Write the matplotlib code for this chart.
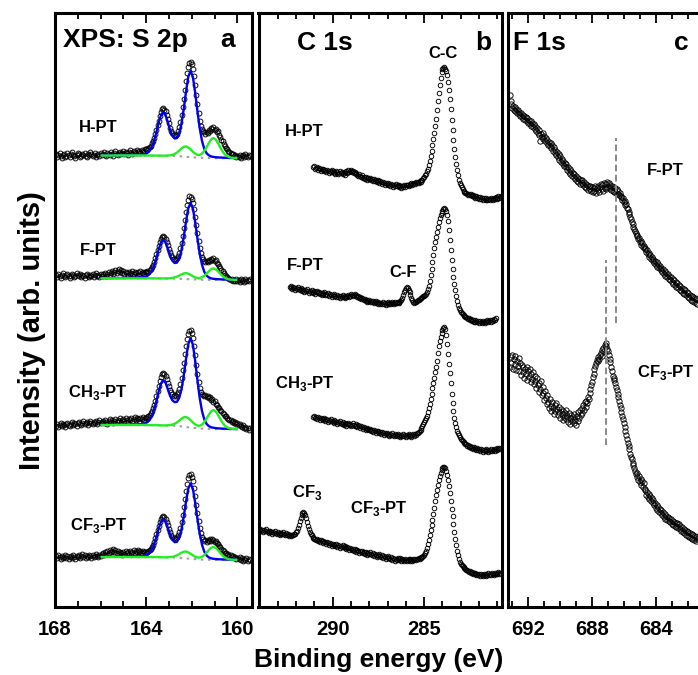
import numpy as np
import matplotlib
matplotlib.use("Agg")
import matplotlib.pyplot as plt
from matplotlib.ticker import MultipleLocator

plt.rcParams['font.family'] = ['Liberation Sans', 'DejaVu Sans']
plt.rcParams['font.weight'] = 'bold'
plt.rcParams['mathtext.fontset'] = 'custom'
plt.rcParams['mathtext.rm'] = 'Liberation Sans:bold'
plt.rcParams['mathtext.bf'] = 'Liberation Sans:bold'

# ---------------- S 2p (panel a), intensities relative to each offset
s2p_start = 167.95
s2p_step = 0.05
s2p_names = ['H-PT', 'F-PT', r'CH$_\mathbf{3}$-PT', r'CF$_\mathbf{3}$-PT']
s2p_offsets = [451.5, 328.7, 182, 50]

s2p_hpt = [2, -1, 1, 3, 0, -2, 1, 2, -1, 0, 3, 1, -1, 2, 4, 1, 0, -2, 1, 3, 2, -1, 0, 2, 1, 3, 0, -1, 2, 1, 4, 2, 0, 1, 3, -1, 1, 2, 0, 3,
           1, 2, 4, 1, 0, 3, 2, 1, 4, 2, 0, 3, 5, 2, 1, 3, 4, 2, 3, 5, 2, 4, 3, 1, 4, 6, 3, 2, 5, 4, 3, 6, 4, 5, 3, 6, 5, 4, 7,
           7, 6, 8, 9, 10, 13, 15, 18, 22, 26, 31, 35, 40, 44, 47, 48, 46, 45, 41, 37, 33, 28, 25, 23, 21, 20, 21, 22, 25, 29,
           34, 41, 49, 57, 66, 75, 83, 89, 93, 94, 92, 87, 80, 71, 61, 52, 43, 35, 30, 27, 25, 24, 22, 24, 23, 26, 25, 28, 27, 29,
           26, 27, 24, 25, 21, 19, 16, 15, 12, 10, 8, 7, 5, 4, 3, 2, 2, 0, 1, -1, 0,
           -1, 1, -2, 0, 1, -1, 2, 0, -1, 1, 0]
s2p_fpt = [3, 1, 4, 2, 0, 3, 5, 2, 1, 3, 4, 2, 0, 2, 4, 3, 1, 2, 5, 3, 2, 4, 1, 3, 2, 0, 3, 4, 2, 1, 3, 2, 4, 1, 3, 5, 2, 3, 1, 4,
           2, 4, 3, 5, 2, 4, 6, 3, 5, 7, 4, 6, 8, 5, 7, 9, 6, 8, 5, 7, 4, 6, 5, 3, 6, 4, 5, 7, 4, 6, 5, 3, 6, 4, 7, 5, 6, 4, 6,
           6, 7, 6, 8, 9, 11, 13, 16, 20, 24, 28, 32, 36, 39, 41, 42, 41, 39, 36, 33, 29, 26, 23, 21, 19, 18, 19, 20, 22, 25,
           30, 35, 42, 50, 58, 66, 73, 78, 82, 81, 79, 75, 69, 61, 53, 45, 37, 30, 25, 21, 19, 17, 16, 17, 16, 18, 17, 19, 18, 20,
           17, 18, 15, 14, 12, 10, 8, 7, 5, 3, 2, 1, 0, -1, -2, -1, -3, -2, -3, -1, -3,
           -2, -4, -1, -3, -2, -4, -1, -3, -2, -3, -1]
s2p_ch3 = [-1, 1, -2, 0, 2, -1, 1, 0, -2, 1, 2, 0, -1, 1, 3, 0, 2, 1, -1, 2, 3, 1, 0, 2, 4, 1, 2, 3, 0, 2, 4, 2, 1, 3, 2, 4, 1, 3, 5, 2,
           3, 4, 2, 5, 3, 1, 4, 6, 3, 5, 2, 4, 6, 3, 5, 4, 7, 3, 5, 6, 4, 7, 5, 3, 6, 5, 7, 4, 6, 8, 5, 7, 6, 4, 7, 6, 8, 5, 7,
           7, 8, 9, 10, 12, 14, 17, 20, 24, 29, 34, 39, 44, 48, 51, 52, 51, 49, 46, 42, 39, 35, 33, 31, 29, 30, 29, 31, 33, 36,
           41, 47, 55, 62, 71, 79, 86, 91, 94, 95, 92, 87, 79, 70, 60, 51, 43, 37, 33, 31, 30, 29, 30, 28, 29, 27, 28, 25, 26, 23,
           24, 21, 20, 18, 17, 15, 14, 12, 11, 9, 9, 7, 6, 5, 5, 3, 4, 2, 3, 1, 2,
           0, 1, -1, -2, 0, -3, -2, -4, -3, -5, -3]
s2p_cf3 = [1, -1, 2, 0, -2, 1, -1, 0, 2, -1, 1, -2, 0, 1, -1, 2, 0, -2, 1, 0, 2, -1, 1, 3, 0, 2, -1, 1, 0, 2, 1, -1, 2, 0, 1, 3, 1, 0, 2, 1,
           3, 4, 2, 5, 3, 6, 4, 7, 5, 6, 8, 5, 7, 4, 6, 3, 5, 4, 2, 5, 3, 6, 4, 5, 3, 6, 4, 5, 7, 4, 6, 5, 7, 5, 6, 4, 6, 5, 5,
           4, 5, 6, 7, 8, 10, 12, 15, 19, 23, 27, 31, 35, 38, 40, 41, 40, 38, 35, 32, 28, 25, 22, 20, 19, 18, 19, 20, 22, 25,
           29, 35, 42, 50, 58, 66, 73, 79, 82, 83, 80, 76, 69, 61, 52, 44, 36, 29, 24, 20, 18, 16, 17, 15, 17, 16, 18, 16, 18, 17,
           15, 16, 14, 13, 11, 10, 8, 7, 6, 4, 4, 2, 3, 1, 2, 0, 1, -1, 0, -2, -1,
           -2, 0, -3, -1, -4, -2, -3, -1, -4, -2, -3]

# fitted envelopes (blue: main doublet, green: second doublet), 165.95 -> 160.05 eV
fit_start = 165.95
fit_step = 0.1
blue_hpt = [0.2, 0.2, 0.2, 0.3, 0.3, 0.3, 0.3, 0.3, 0.3, 0.3, 0.4, 0.4, 0.5, 0.5, 0.6, 0.7, 0.8, 0.9, 1.1, 1.6,
            2.7, 4.7, 8.7, 15.0, 23.4, 32.7, 40.4, 43.5, 40.5, 33.3, 25.4, 19.8, 17.2, 17.6, 22.2, 32.1, 46.9, 64.2, 79.1, 84.7,
            78.4, 62.9, 44.1, 27.1, 14.5, 6.6, 2.3, 0.2, -0.9, -1.4, -1.7, -1.9, -2.0, -2.1, -2.2, -2.3, -2.4, -2.4, -2.5, -2.5]
green_hpt = [0.0, 0.0, 0.0, 0.0, 0.0, 0.0, 0.1, 0.1, 0.1, 0.1, 0.1, 0.1, 0.1, 0.1, 0.1, 0.1, 0.1, 0.1, 0.1, 0.1,
             0.1, 0.0, 0.0, 0.0, -0.1, -0.1, -0.1, -0.2, -0.1, 0.0, 0.2, 0.7, 1.6, 3.0, 4.9, 7.1, 8.7, 9.1, 8.1, 6.1,
             3.8, 1.9, 0.7, 0.7, 2.0, 4.6, 8.4, 12.6, 16.1, 17.5, 16.0, 12.4, 8.0, 4.1, 1.1, -0.7, -1.7, -2.2, -2.4, -2.5]
blue_fpt = [0.2, 0.2, 0.2, 0.2, 0.2, 0.2, 0.3, 0.3, 0.3, 0.3, 0.4, 0.4, 0.5, 0.5, 0.5, 0.6, 0.7, 0.8, 1.0, 1.4,
            2.4, 4.2, 7.7, 13.3, 20.7, 29.0, 35.8, 38.5, 35.9, 29.6, 22.6, 17.6, 15.3, 15.7, 19.8, 28.5, 41.7, 57.0, 70.3, 75.3,
            69.8, 56.2, 39.6, 24.6, 13.5, 6.5, 2.7, 0.9, -0.1, -0.5, -0.7, -0.9, -1.0, -1.1, -1.2, -1.2, -1.3, -1.3, -1.4, -1.4]
green_fpt = [0.0, 0.0, 0.0, 0.0, 0.0, 0.0, 0.0, 0.0, 0.0, 0.0, 0.0, 0.0, 0.0, 0.0, 0.0, 0.0, 0.0, 0.0, 0.0, 0.0,
             0.0, 0.0, 0.0, 0.0, -0.1, 0.0, -0.1, -0.1, -0.1, 0.0, 0.1, 0.4, 0.9, 1.7, 2.8, 4.0, 4.9, 5.2, 4.6, 3.5,
             2.1, 1.0, 0.3, 0.3, 1.1, 2.6, 4.7, 7.1, 9.2, 10.0, 9.1, 7.0, 4.5, 2.2, 0.6, -0.5, -1.1, -1.3, -1.5, -1.5]
blue_ch3 = [0.2, 0.2, 0.2, 0.3, 0.3, 0.3, 0.4, 0.4, 0.4, 0.4, 0.4, 0.4, 0.5, 0.5, 0.6, 0.7, 0.8, 0.9, 1.2, 1.7,
            2.8, 4.8, 8.9, 15.5, 24.1, 33.8, 41.6, 44.8, 42.3, 35.8, 29.1, 24.7, 22.9, 23.2, 27.2, 35.9, 49.7, 66.4, 81.2, 86.8,
            80.2, 64.1, 44.4, 26.8, 13.8, 5.6, 1.1, -1.1, -2.3, -2.7, -3.1, -3.3, -3.5, -3.6, -3.7, -3.8, -3.9, -3.9, -4.0, -4.0]
green_ch3 = [0.0, 0.0, 0.0, 0.0, 0.0, 0.0, 0.1, 0.1, 0.1, 0.1, 0.1, 0.1, 0.1, 0.1, 0.1, 0.1, 0.1, 0.1, 0.1, 0.1,
             0.1, -0.1, -0.1, 0.0, -0.2, -0.2, -0.3, -0.4, -0.4, -0.3, 0.0, 0.4, 1.3, 2.6, 4.4, 6.4, 7.8, 8.0, 6.9, 4.8,
             2.5, 0.6, -0.6, -0.7, 0.5, 2.9, 6.5, 10.4, 13.7, 15.0, 13.6, 10.1, 5.9, 2.2, -0.6, -2.3, -3.2, -3.7, -3.9, -4.0]
blue_cf3 = [0.2, 0.2, 0.2, 0.2, 0.2, 0.2, 0.3, 0.3, 0.3, 0.3, 0.4, 0.4, 0.5, 0.5, 0.5, 0.6, 0.7, 0.8, 1.0, 1.4,
            2.3, 4.1, 7.5, 13.1, 20.3, 28.5, 35.2, 37.8, 35.3, 29.0, 22.1, 17.1, 14.9, 15.2, 19.3, 27.9, 40.8, 55.7, 68.7, 73.6,
            68.0, 54.5, 38.0, 23.2, 12.2, 5.3, 1.5, -0.4, -1.3, -1.7, -2.0, -2.2, -2.3, -2.4, -2.5, -2.6, -2.6, -2.6, -2.7, -2.7]
green_cf3 = [0.0, 0.0, 0.0, 0.0, 0.0, 0.0, 0.0, 0.0, 0.0, 0.0, 0.0, 0.0, 0.0, 0.0, 0.0, 0.0, 0.0, 0.0, 0.0, 0.0,
             0.0, 0.0, 0.0, 0.0, -0.1, -0.1, -0.2, -0.3, -0.3, -0.2, 0.0, 0.2, 0.8, 1.7, 3.0, 4.3, 5.3, 5.5, 4.7, 3.2,
             1.7, 0.4, -0.5, -0.5, 0.3, 1.9, 4.4, 7.1, 9.3, 10.2, 9.2, 6.9, 4.0, 1.5, -0.4, -1.6, -2.3, -2.6, -2.7, -2.8]

# Shirley-type backgrounds (grey dotted)
bg_e = [165.95, 163.45, 162.65, 162.05, 161.45, 160.05]
bg_hpt = [0, -0.2, -0.5, -1.7, -2.5, -2.8]
bg_fpt = [0, -0.1, -0.3, -1.0, -1.5, -1.7]
bg_ch3 = [0, -0.3, -0.8, -2.6, -3.8, -4.3]
bg_cf3 = [0, -0.2, -0.5, -1.8, -2.7, -3.0]

# ---------------- C 1s (panel b), stacked intensities
c1s_step = 0.05
c1s_starts = [291.05, 292.35, 291.05, 294.00]
c1s_hpt = [440, 441, 438, 439, 440, 437, 439, 438, 436, 438, 437,
           438, 436, 437, 435, 437, 436, 434, 436, 435, 437,
           436, 434, 435, 433, 436, 435, 433, 434, 436, 434,
           435, 433, 434, 432, 435, 436, 434, 437, 435, 436,
           437, 435, 436, 434, 435, 433, 434, 432, 431, 433,
           431, 430, 432, 429, 430, 428, 430, 429, 427, 429,
           428, 429, 427, 428, 426, 428, 426, 427, 425, 427,
           426, 424, 426, 425, 423, 425, 424, 422, 424, 423,
           424, 422, 423, 421, 423, 422, 420, 422, 421, 423,
           421, 422, 420, 422, 421, 419, 421, 420, 422, 420,
           422, 422, 422, 421, 423, 422, 424, 422, 423, 424,
           423, 425, 424, 425, 424, 426, 425, 427, 427, 429,
           430, 432, 433, 436, 438, 442, 446, 451, 456, 462,
           468, 474, 481, 488, 497, 506, 514, 522, 529, 535,
           538, 539, 540, 538, 536, 532, 525, 517, 508, 498,
           487, 477, 467, 458, 450, 443, 437, 432, 427, 424,
           422, 420, 418, 416, 415, 414, 414, 413, 412, 413,
           412, 413, 411, 412, 410, 411, 409, 411, 409, 410,
           408, 410, 408, 409, 407, 409, 408, 407, 409, 407,
           408, 408, 407, 409, 408, 407, 409, 408, 410, 408, 409, 411, 409, 410, 411]
c1s_fpt = [320, 319, 321, 318, 320, 319, 317, 319, 318, 320,
           318, 317, 319, 316, 318, 317, 315, 317, 316, 318,
           316, 314, 316, 315, 317, 315, 314, 316, 313, 315,
           316, 314, 315, 313, 314, 312, 314, 313, 315, 312,
           313, 312, 314, 311, 313, 312, 310, 312, 311, 313,
           311, 310, 312, 310, 311, 309, 311, 310, 312, 310,
           311, 309, 310, 311, 312, 310, 311, 313, 312, 311,
           312, 313, 311, 312, 310, 311, 309, 310, 308, 309,
           308, 307, 308, 306, 307, 305, 306, 307, 305, 306,
           305, 306, 304, 305, 306, 304, 303, 305, 304, 303,
           304, 303, 305, 303, 304, 302, 304, 303, 305, 303,
           304, 303, 305, 304, 303, 305, 304,
           304, 305, 304, 305, 306, 307, 309, 312, 315, 317, 319, 320, 319, 317, 315, 312, 309, 307, 305, 304, 305, 305, 306,
           307, 307, 308, 309, 309, 310, 311, 311, 312, 313,
           315, 318, 321, 326, 332, 338, 345, 352, 359, 365,
           370, 375, 380, 385, 389, 392, 394, 396, 398, 399,
           398, 396, 392, 386, 377, 367, 357, 347, 338, 330,
           323, 317, 311, 306, 302, 299, 297, 295, 294, 293,
           292, 291, 290, 290, 289, 288, 289, 287, 288, 286,
           287, 285, 287, 285, 286, 285, 286, 284, 286, 285,
           284, 286, 285, 284, 286, 285, 287, 285, 286, 287,
           285, 287, 286, 288, 287, 289]
c1s_ch3 = [190, 191, 189, 190, 188, 190, 189, 187, 189, 188,
           188, 187, 189, 186, 188, 187, 185, 187, 186, 188,
           186, 185, 187, 184, 186, 185, 183, 185, 184, 186,
           184, 183, 185, 182, 184, 183, 181, 183, 184, 182,
           183, 181, 182, 184, 182, 181, 183, 181, 180, 182,
           181, 179, 181, 180, 178, 180, 179, 177, 179, 178,
           178, 177, 178, 176, 177, 175, 177, 176, 174, 176,
           175, 176, 174, 175, 173, 175, 174, 172, 174, 173,
           174, 172, 173, 171, 173, 172, 174, 172, 171, 173,
           172, 171, 173, 171, 172, 170, 172, 171, 173, 171,
           172, 170, 172, 171, 173, 171, 172, 170, 172, 173, 171,
           173, 172, 174, 174, 175, 176, 177, 179, 181, 183,
           185, 187, 189, 191, 195, 199, 203, 208, 213, 219,
           224, 229, 235, 240, 246, 254, 261, 266, 270, 274,
           277, 279, 280, 278, 272, 263, 253, 243, 234, 224,
           213, 204, 196, 189, 184, 180, 176, 174, 172, 170,
           168, 167, 166, 165, 164, 163, 163, 161, 162, 160,
           161, 159, 160, 158, 160, 158, 159, 157, 159, 157,
           158, 156, 158, 157, 155, 157, 156, 158, 156, 157,
           155, 157, 156, 158, 156, 157, 158, 156, 158, 157,
           159, 158, 159, 158]
c1s_cf3 = [77, 78, 76, 77, 75, 77, 76, 78, 76, 75,
           76, 74, 76, 75, 73, 75, 74, 76, 74, 73,
           75, 73, 74, 72, 74, 73, 75, 73, 72, 74,
           72, 73, 71, 72,
           71, 72, 72, 72, 73, 73, 75, 76, 79, 82, 86, 89, 92, 94,
           95, 94, 92, 89, 85, 81, 78, 75, 73, 72, 70, 69, 68, 68,
           67, 68, 66, 67, 65, 67, 66, 64, 66, 65,
           65, 63, 65, 64, 62, 64, 63, 61, 63, 62,
           62, 61, 63, 60, 62, 61, 59, 61, 60, 62,
           60, 59, 61, 58, 60, 59, 57, 59, 58, 57,
           58, 56, 58, 57, 55, 57, 56, 54, 56, 55,
           56, 54, 55, 53, 55, 54, 52, 54, 53, 55,
           53, 52, 54, 51, 53, 52, 50, 52, 51, 53,
           51, 50, 52, 49, 51, 50, 48, 50, 49, 51,
           49, 48, 50, 47, 49, 48, 46, 48, 47, 49,
           48, 47, 49, 46, 48, 47, 46, 48, 47, 46,
           47, 48, 46, 48, 47, 46, 48, 47,
           48, 47, 48, 48, 49, 48, 49, 50, 50, 51,
           52, 54, 56, 59, 63, 67, 72, 77, 82, 87,
           93, 99, 106, 112, 117, 122, 127, 131, 134, 137,
           139, 140, 140, 139, 136, 132, 127, 121, 114, 106,
           98, 91, 83, 75, 68, 62, 56, 52, 48, 45,
           43, 42, 41, 40, 39, 38, 37, 37, 36, 35,
           36, 34, 35, 33, 34, 33, 34, 32, 33, 32,
           33, 31, 33, 32, 31, 33, 32, 31, 33, 32,
           34, 32, 33, 32, 34, 33, 32, 34, 33, 34,
           33, 35, 33, 34]
c1s_names = ['H-PT', 'F-PT', r'CH$_\mathbf{3}$-PT', r'CF$_\mathbf{3}$-PT']

# ---------------- F 1s (panel c)
f1s_start = 693.15
f1s_step = 0.05
f1s_fpt = [512, 506, 503, 499, 501, 497, 500, 496, 498, 494,
           497, 493, 495, 491, 494, 490, 492, 488, 491, 487,
           490, 486, 489, 484, 487, 483, 486, 481, 484, 480,
           483, 478, 481, 476, 479, 474, 477, 472, 466, 473,
           470, 474, 468, 471, 466, 469, 464, 467, 462, 465,
           461, 464, 459, 462, 456, 460, 454, 457, 452, 455,
           450, 453, 447, 451, 445, 448, 443, 446, 441, 444,
           440, 443, 437, 440, 435, 438, 433, 436, 431, 434,
           430, 433, 428, 431, 426, 429, 425, 428, 423, 427,
           424, 427, 422, 425, 420, 423, 419, 422, 417, 421,
           418, 421, 416, 420, 415, 419, 416, 421, 414, 419,
           417, 421, 415, 420, 423, 418, 422, 416, 424, 419,
           423, 418, 425, 420, 424, 419, 422, 417, 421, 416,
           420, 415, 419, 414, 418, 413, 416, 412, 414, 410,
           411, 407, 409, 405, 406, 402, 403, 399, 398, 395,
           393, 390, 388, 385, 383, 380, 378, 376, 374, 372,
           371, 368, 369, 365, 366, 362, 364, 360, 361, 358,
           359, 355, 357, 353, 354, 350, 352, 348, 350, 346,
           348, 344, 346, 342, 345, 340, 343, 339, 341, 337,
           339, 335, 338, 333, 336, 331, 334, 330, 333, 328,
           331, 327, 330, 325, 328, 323, 327, 322, 325, 320,
           324, 319, 322, 317, 321, 316, 319, 314, 318, 313,
           317, 312, 315, 310, 314, 309, 312, 307, 311, 306,
           310, 305, 309, 304, 308, 303, 307]
f1s_cf3 = [240, 250, 244, 252, 238, 248, 243, 251, 237, 246,
           241, 249, 236, 244, 232, 242, 235, 240, 229, 238,
           233, 240, 227, 236, 230, 238, 225, 233, 228, 235,
           223, 231, 226, 219, 229, 222, 215, 224, 218, 226,
           212, 220, 214, 207, 216, 209, 203, 212, 205, 199,
           208, 201, 196, 205, 199, 193, 202, 196, 204, 198,
           192, 200, 195, 189, 198, 193, 187, 196, 190, 194,
           188, 197, 191, 185, 194, 189, 183, 192, 186, 190,
           184, 193, 187, 182, 191, 186, 195, 189, 197, 192,
           199, 194, 202, 197, 205, 200, 206, 204, 210, 208,
           214, 218, 222, 225, 230, 233, 238, 241, 244, 247,
           246, 250, 248, 252, 254, 251, 257, 259, 256, 262,
           264, 261, 258, 256, 252, 248, 245, 240, 236, 231,
           229, 227, 224, 220, 217, 213, 210, 206, 202, 199,
           195, 191, 188, 184, 180, 176, 172, 168, 164, 161,
           158, 153, 150, 148, 144, 142, 139, 136, 133, 134,
           130, 127, 131, 125, 128, 122, 126, 120, 124, 118,
           117, 112, 115, 110, 113, 108, 111, 106, 109, 104,
           107, 102, 104, 99, 102, 97, 100, 95, 98, 94,
           97, 92, 95, 90, 93, 88, 91, 87, 90, 86,
           89, 85, 88, 83, 86, 82, 85, 81, 84, 80,
           84, 79, 83, 78, 81, 76, 80, 75, 78, 74,
           77, 72, 76, 71, 75, 70, 74, 69, 73, 68,
           72, 67, 71, 66, 70, 68, 69]
f1s_mark_e = [686.5, 687.15]
f1s_mark_lo = [284, 162]
f1s_mark_hi = [469, 347]


def energies(start, n, step):
    return start - step * np.arange(n)


def style_axis(ax, xlim, major, minor):
    ax.set_xlim(*xlim)
    ax.set_ylim(0, 594)
    ax.xaxis.set_major_locator(MultipleLocator(major))
    ax.xaxis.set_minor_locator(MultipleLocator(minor))
    ax.set_yticks([])
    ax.tick_params(axis='x', which='both', direction='in', top=True, bottom=True,
                   labelsize=14.5, pad=9, width=1.3)
    ax.tick_params(axis='x', which='major', length=7)
    ax.tick_params(axis='x', which='minor', length=4)
    for t in ax.get_xticklabels():
        t.set_fontweight('bold')
    for s in ax.spines.values():
        s.set_linewidth(2.2)


fig = plt.figure(figsize=(6.98, 6.75), dpi=100)
ax_a = fig.add_axes([54.5 / 698, 0.1007, 197 / 698, 0.88])
ax_b = fig.add_axes([258.5 / 698, 0.1007, 243.5 / 698, 0.88])
ax_c = fig.add_axes([507.5 / 698, 0.1007, 194.5 / 698, 0.88])

mk = dict(ls='none', marker='o', mfc='none', mec='black', mew=0.65)

# panel a
s2p_data = [s2p_hpt, s2p_fpt, s2p_ch3, s2p_cf3]
blues = [blue_hpt, blue_fpt, blue_ch3, blue_cf3]
greens = [green_hpt, green_fpt, green_ch3, green_cf3]
bgs = [bg_hpt, bg_fpt, bg_ch3, bg_cf3]
for vals, bl, gr, bg, off in zip(s2p_data, blues, greens, bgs, s2p_offsets):
    e = energies(s2p_start, len(vals), s2p_step)
    ax_a.plot(e, np.array(vals) + off, ms=3.5, zorder=2, **mk)
    ef = energies(fit_start, len(bl), fit_step)
    ax_a.plot(bg_e, np.array(bg) + off, color='#a0a0a0', lw=1.5, ls=(0, (1.2, 2.2)), zorder=3)
    ax_a.plot(ef, np.array(bl) + off, color='#0000ee', lw=1.7, zorder=4)
    ax_a.plot(ef, np.array(gr) + off, color='#22ee22', lw=1.7, zorder=5)
style_axis(ax_a, (168.02, 159.38), 4, 1)
ax_a.text(0.043, 0.943, 'XPS: S 2p', transform=ax_a.transAxes, fontsize=19, fontweight='bold')
ax_a.text(0.878, 0.943, 'a', transform=ax_a.transAxes, fontsize=19, fontweight='bold', ha='center')
for name, fx, fy in zip(s2p_names, [0.124, 0.129, 0.069, 0.079], [0.799, 0.593, 0.354, 0.130]):
    ax_a.text(fx, fy, name, transform=ax_a.transAxes, fontsize=12, fontweight='bold')

# panel b
for vals, st in zip([c1s_hpt, c1s_fpt, c1s_ch3, c1s_cf3], c1s_starts):
    e = energies(st, len(vals), c1s_step)
    ax_b.plot(e, vals, ms=3.3, **mk)
style_axis(ax_b, (294.05, 280.75), 5, 1)
ax_b.text(0.157, 0.938, 'C 1s', transform=ax_b.transAxes, fontsize=19, fontweight='bold')
ax_b.text(0.922, 0.938, 'b', transform=ax_b.transAxes, fontsize=19, fontweight='bold', ha='center')
ax_b.text(0.756, 0.924, 'C-C', transform=ax_b.transAxes, fontsize=12, fontweight='bold', ha='center')
ax_b.text(0.595, 0.556, 'C-F', transform=ax_b.transAxes, fontsize=12, fontweight='bold', ha='center')
ax_b.text(0.137, 0.186, r'CF$_\mathbf{3}$', transform=ax_b.transAxes, fontsize=12, fontweight='bold')
for name, fx, fy in zip(c1s_names, [0.109, 0.116, 0.068, 0.376], [0.793, 0.567, 0.368, 0.158]):
    ax_b.text(fx, fy, name, transform=ax_b.transAxes, fontsize=12, fontweight='bold')

# panel c
for vals in [f1s_fpt, f1s_cf3]:
    e = energies(f1s_start, len(vals), f1s_step)
    ax_c.plot(e, vals, ms=3.8, **mk)
ax_c.vlines(f1s_mark_e, f1s_mark_lo, f1s_mark_hi, colors='#888888', lw=1.4,
            linestyles=(0, (3.4, 1.8)))
style_axis(ax_c, (693.3, 681.1), 4, 1)
ax_c.text(0.030, 0.938, 'F 1s', transform=ax_c.transAxes, fontsize=19, fontweight='bold')
ax_c.text(0.892, 0.938, 'c', transform=ax_c.transAxes, fontsize=19, fontweight='bold', ha='center')
ax_c.text(0.716, 0.727, 'F-PT', transform=ax_c.transAxes, fontsize=12, fontweight='bold')
ax_c.text(0.664, 0.388, r'CF$_\mathbf{3}$-PT', transform=ax_c.transAxes, fontsize=12, fontweight='bold')

fig.text(0.0458, 0.5096, 'Intensity (arb. units)', rotation=90, ha='center', va='center',
         fontsize=21, fontweight='bold')
fig.text(0.543, 0.022, 'Binding energy (eV)', ha='center', va='center',
         fontsize=19, fontweight='bold')

fig.savefig('out.png', dpi=100)
